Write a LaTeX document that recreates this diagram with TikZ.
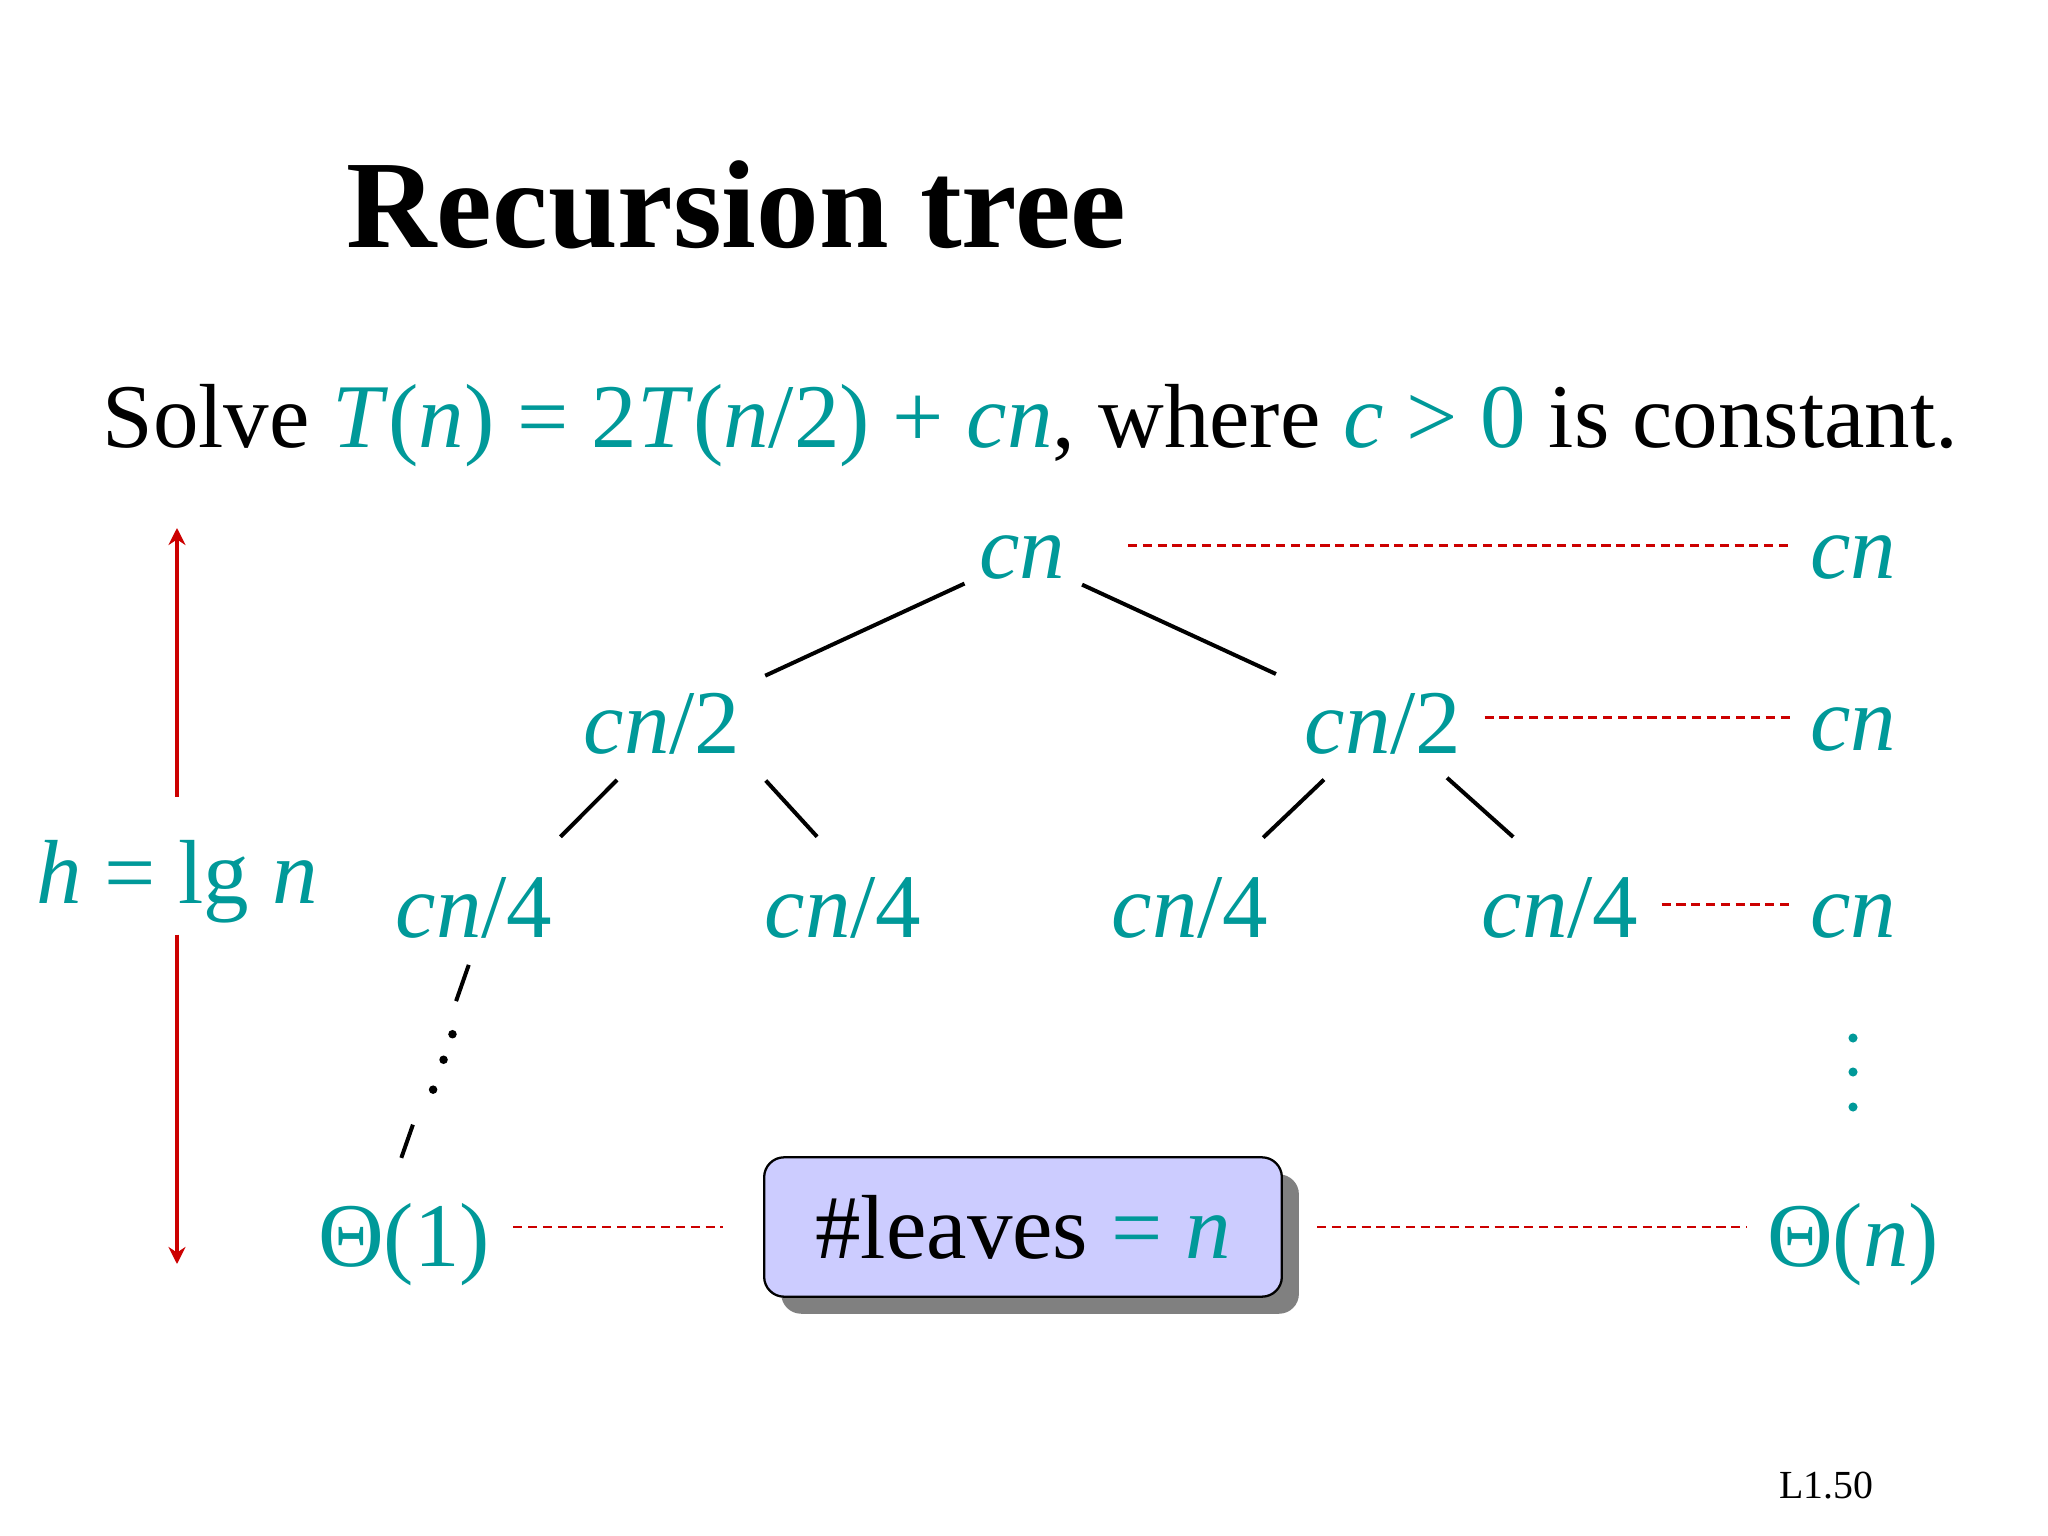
\documentclass[tikz,border=0pt]{standalone}
\usepackage{fontspec}
\setmainfont{Liberation Serif}
\usepackage{xcolor}
\usepackage{tikz}
\usetikzlibrary{arrows.meta,calc,shadows}

\definecolor{slideteal}{RGB}{0,153,153}
\definecolor{slidered}{RGB}{204,0,0}
\definecolor{boxblue}{RGB}{204,204,255}
\newcommand{\vi}[1]{\textit{#1}}

\begin{document}
\begin{tikzpicture}[x=0.3515625pt, y=-0.3515625pt,
    lbl/.style={text=slideteal, font=\fontsize{32}{38}\selectfont, anchor=base, inner sep=4pt},
    tedge/.style={draw, line width=1.4pt, shorten <=1pt, shorten >=5pt},
    subedge/.style={tedge, shorten <=7pt, shorten >=14pt},
    level/.style={draw=slidered, line width=0.8pt, dash pattern=on 3.2pt off 2pt, shorten <=4pt, shorten >=3pt},
    harrow/.style={draw=slidered, line width=1.4pt, -{Stealth[length=6pt,width=6pt,inset=2pt]}},
    leafbox/.style={draw, line width=0.8pt, fill=boxblue, rounded corners=7pt, minimum width=182pt, minimum height=49pt, font=\fontsize{32}{38}\selectfont,
        drop shadow={shadow xshift=6pt, shadow yshift=-6pt, fill=black!50, opacity=1}}]

    \path[fill=white] (0,0) rectangle (2048,1536);

    % Heading
    \node[font=\fontsize{44}{52}\selectfont\bfseries, anchor=base west, inner sep=0pt] (title) at (346,248) {Recursion tree};
    \node[font=\fontsize{32}{38}\selectfont, anchor=base west, inner sep=0pt] (task) at (102,448)
        {Solve \textcolor{slideteal}{\vi{T}(\vi{n}) = 2\vi{T}(\vi{n}/2) + \vi{cn}}, where \textcolor{slideteal}{\vi{c} > 0} is constant.};

    % Tree
    \node[lbl] (root) at (1022,578) {\vi{cn}};
    \node[lbl] (l2a) at (662,753) {\vi{cn}/2};
    \node[lbl] (l2b) at (1383,753) {\vi{cn}/2};
    \node[lbl] (l3a) at (474,937) {\vi{cn}/4};
    \node[lbl] (l3b) at (843,937) {\vi{cn}/4};
    \node[lbl] (l3c) at (1190,937) {\vi{cn}/4};
    \node[lbl] (l3d) at (1560,937) {\vi{cn}/4};
    \node[lbl] (leaf) at (404,1266) {Θ(1)};

    % Row sums
    \node[lbl] (sum1) at (1853,578) {\vi{cn}};
    \node[lbl] (sum2) at (1853,750) {\vi{cn}};
    \node[lbl] (sum3) at (1853,937) {\vi{cn}};
    \node[lbl] (total) at (1853,1266) {Θ(\vi{n})};
    \foreach \y in {1038,1072,1107}
        \fill[slideteal] (1853,\y) circle[radius=1.6pt];

    % Leaf count
    \node[leafbox] (leaves) at (1023,1227) {\#leaves \textcolor{slideteal}{= \vi{n}}};

    % Height
    \node[lbl] (hlab) at (177,903) {\vi{h} = lg \vi{n}};
    \coordinate (htop) at (177,528);
    \coordinate (hbot) at (177,1264);
    \draw[harrow, shorten <=11pt] (hlab) -- (htop);
    \draw[harrow] (hlab) -- (hbot);

    % Edges
    \draw[tedge] (root) -- (l2a);
    \draw[tedge, shorten <=2pt, shorten >=6.5pt] (root) -- (l2b);
    \draw[subedge] (l2a.-126) -- (l3a.36);
    \draw[tedge, shorten <=7pt, shorten >=13.5pt] (l2a.south east) -- (l3b.north);
    \draw[subedge] (l2b) -- (l3c);
    \draw[subedge, shorten <=6.3pt, shorten >=14.8pt] (l2b.-40) -- (l3d.110);
    \draw[line width=1.4pt, shorten <=5.6pt, shorten >=12.3pt, dash pattern=on 13.5pt off 46pt] (l3a.south) -- ([xshift=-5pt]leaf.north);
    \foreach \t in {0.35,0.456,0.58}
        \fill ([xshift=2.8pt]$(l3a.south)!\t!([xshift=-5pt]leaf.north)$) circle[radius=1.5pt];

    % Level lines
    \draw[level, shorten <=18pt] ([yshift=4pt]root.east) -- ([yshift=4pt]sum1.west);
    \draw[level] ([yshift=2pt]l2b.east) -- ([yshift=2pt]l2b.east -| sum2.west);
    \draw[level] ([yshift=1pt]l3d.east) -- ([yshift=1pt]l3d.east -| sum3.west);
    \draw[level, shorten >=14pt] (leaf.east |- leaves.west) -- (leaves.west);
    \draw[level, shorten <=12pt] (leaves.east) -- (leaves.east -| total.west);

    \node[font=\fontsize{14}{16}\selectfont, anchor=base west, inner sep=0pt] (slideno) at (1779,1498) {L1.50};

\end{tikzpicture}
\end{document}
